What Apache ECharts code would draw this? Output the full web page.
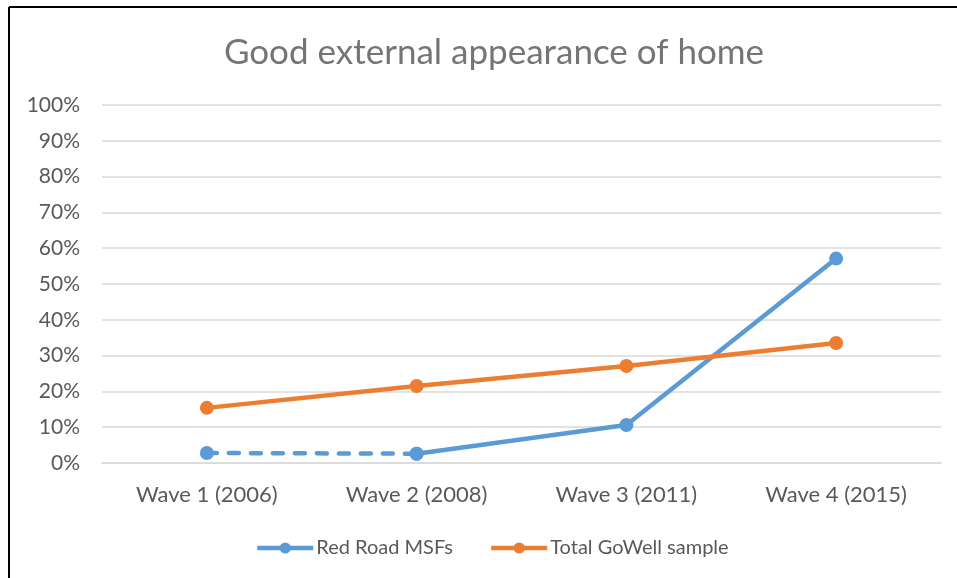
<!DOCTYPE html>
<html>
<head>
<meta charset="utf-8">
<script src="https://cdn.jsdelivr.net/npm/echarts@6/dist/echarts.min.js"></script>
<style>
html,body{margin:0;padding:0;background:#fff;}
#c{width:957px;height:578px;}
</style>
</head>
<body>
<div id="c"></div>
<script>
const categories = ['Wave 1 (2006)', 'Wave 2 (2008)', 'Wave 3 (2011)', 'Wave 4 (2015)'];
const redRoadDashed = [2.8, 2.6, null, null];
const redRoadSolid = [null, 2.6, 10.6, 57.1];
const totalGoWell = [15.4, 21.5, 27.1, 33.5];
const seriesNames = ['Red Road MSFs', 'Total GoWell sample'];

const font = 'Lato, "Open Sans", sans-serif';
const blue = '#5B9BD5', orange = '#ED7D31';

const chart = echarts.init(document.getElementById('c'), null, {renderer: 'canvas'});
chart.setOption({
  backgroundColor: '#fff',
  animation: false,
  title: {
    text: 'Good external appearance of home',
    left: 489, top: 30, textAlign: 'center',
    textStyle: {fontFamily: font, fontSize: 35, fontWeight: 'normal', color: '#757575'}
  },
  legend: {
    data: seriesNames,
    top: 533, left: 250,
    itemWidth: 56, itemHeight: 14, itemGap: 36,
    lineStyle: {width: 4.5},
    textStyle: {fontFamily: font, fontSize: 20, color: '#595959', padding: [0, 0, 0, -2]}
  },
  grid: {left: 102, right: 16, top: 105, bottom: 115, containLabel: false},
  xAxis: {
    type: 'category', data: categories, boundaryGap: true,
    axisLine: {lineStyle: {color: '#d9d9d9', width: 1.5}},
    axisTick: {show: false},
    axisLabel: {fontFamily: font, fontSize: 22, color: '#595959', margin: 21}
  },
  yAxis: {
    type: 'value', min: 0, max: 100, interval: 10,
    axisLine: {show: false}, axisTick: {show: false},
    splitLine: {lineStyle: {color: '#d9d9d9', width: 1.5}},
    axisLabel: {fontFamily: font, fontSize: 21, color: '#595959', margin: 22, formatter: '{value}%'}
  },
  graphic: [
    {type: 'line', shape: {x1: 9, y1: 7, x2: 957, y2: 7}, style: {stroke: '#000', lineWidth: 2}},
    {type: 'line', shape: {x1: 9, y1: 7, x2: 9, y2: 578}, style: {stroke: '#000', lineWidth: 2}}
  ],
  series: [
    {
      name: seriesNames[0], type: 'line', data: redRoadSolid,
      symbol: 'circle', symbolSize: 14, connectNulls: false,
      itemStyle: {color: blue}, lineStyle: {color: blue, width: 4.5}
    },
    {
      name: seriesNames[0], type: 'line', data: redRoadDashed,
      symbol: 'circle', symbolSize: 14, connectNulls: false,
      itemStyle: {color: blue}, lineStyle: {color: blue, width: 4.5, type: [10, 12], cap: 'round'}
    },
    {
      name: seriesNames[1], type: 'line', data: totalGoWell,
      symbol: 'circle', symbolSize: 14,
      itemStyle: {color: orange}, lineStyle: {color: orange, width: 4.5}
    }
  ]
});
</script>
</body>
</html>
